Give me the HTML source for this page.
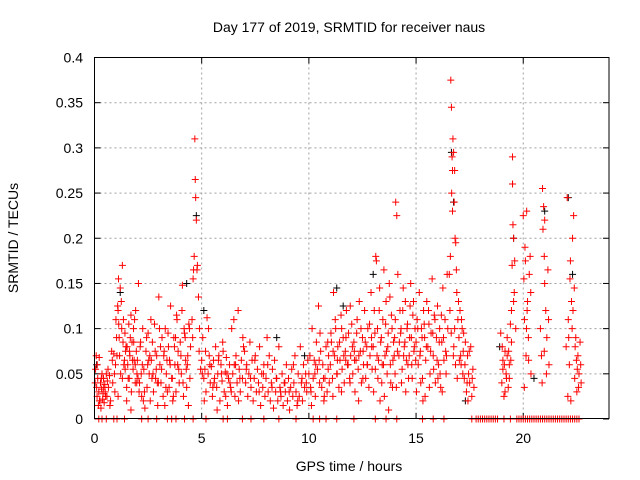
<!DOCTYPE html>
<html><head><meta charset="utf-8"><style>
html,body{margin:0;padding:0;background:#fff}
svg{display:block;font-family:"Liberation Sans",sans-serif}
</style></head><body>
<svg id="chart" width="640" height="480">
<text x="349" y="32" font-size="14" text-anchor="middle" fill="#000">Day 177 of 2019, SRMTID for receiver naus</text>
<text x="349" y="471" font-size="14" text-anchor="middle" fill="#000">GPS time / hours</text>
<text x="0" y="0" font-size="14" text-anchor="middle" fill="#000" transform="translate(18,238) rotate(-90)">SRMTID / TECUs</text>
<g id="grid"></g>
<g id="ticks"></g>
<g id="blackSeries"></g>
<g id="redSeries"></g>
<rect x="94.5" y="57.5" width="514.5" height="361" fill="none" stroke="#000" stroke-width="1"/>
</svg>
<script>
const xTicks=[0,5,10,15,20];
const yTicks=[0,0.05,0.1,0.15,0.2,0.25,0.3,0.35,0.4];
const yTickLabels=["0","0.05","0.1","0.15","0.2","0.25","0.3","0.35","0.4"];
const hoursRed=[0.05,0.08,0.1,0.12,0.15,0.18,0.2,0.22,0.25,0.28,0.3,0.33,0.35,0.38,0.4,0.42,0.45,0.48,0.5,0.55,0.58,0.6,0.65,0.7,0.75,0.8,0.85,0.9,0.95,0.98,
1.0,1.05,1.1,1.12,1.15,1.2,1.22,1.25,1.3,1.33,1.35,1.4,1.42,1.45,1.5,1.52,1.55,1.6,1.62,1.65,1.7,1.72,1.75,1.8,1.82,1.85,1.9,1.92,1.95,1.98,1.1,1.3,1.5,1.7,1.9,
2.0,2.05,2.1,2.15,2.2,2.25,2.3,2.35,2.4,2.45,2.5,2.55,2.6,2.65,2.7,2.75,2.8,2.85,2.9,2.95,3.0,3.05,3.1,3.15,3.2,3.25,3.3,3.35,3.4,3.45,3.5,3.55,3.6,3.65,3.7,3.75,3.8,3.85,3.9,3.95,4.0,4.05,4.1,4.15,4.2,4.25,4.3,4.35,4.4,4.45,
2.08,2.28,2.48,2.68,2.88,3.08,3.28,3.48,3.68,3.88,4.08,4.28,4.48,2.18,2.58,2.98,3.38,3.78,4.18,4.38,
4.55,4.6,4.62,4.65,4.68,4.7,4.72,4.75,4.78,4.8,4.85,4.9,4.95,4.58,4.88,
5.0,5.05,5.1,5.15,5.2,5.25,5.3,5.35,5.4,5.45,5.5,5.55,5.6,5.65,5.7,5.75,5.8,5.85,5.9,5.95,6.0,6.05,6.1,6.15,6.2,6.25,6.3,6.35,6.4,6.45,6.5,6.55,6.6,6.65,6.7,6.75,6.8,6.85,6.9,6.95,5.12,5.32,5.52,5.72,5.92,6.12,6.32,6.52,6.72,6.92,
7.0,7.05,7.1,7.15,7.2,7.25,7.3,7.35,7.4,7.45,7.5,7.55,7.6,7.65,7.7,7.75,7.8,7.85,7.9,7.95,8.0,8.05,8.1,8.15,8.2,8.25,8.3,8.35,8.4,8.45,8.5,8.55,8.6,8.65,8.7,8.75,8.8,8.85,8.9,8.95,9.0,9.05,9.1,9.15,9.2,9.25,9.3,9.35,9.4,9.45,9.5,9.55,9.6,9.65,9.7,9.75,9.8,9.85,9.9,9.95,
10.0,10.05,10.1,10.15,10.2,10.25,10.3,10.35,10.4,10.45,10.5,10.55,10.6,10.65,10.7,10.75,10.8,10.85,10.9,10.95,10.12,10.32,10.52,10.72,10.92,
11.0,11.05,11.1,11.15,11.2,11.25,11.3,11.35,11.4,11.45,11.5,11.55,11.6,11.65,11.7,11.75,11.8,11.85,11.9,11.95,12.0,12.05,12.1,12.15,12.2,12.25,12.3,12.35,12.4,12.45,12.5,12.55,12.6,12.65,12.7,12.75,12.8,12.85,12.9,12.95,11.12,11.32,11.52,11.72,11.92,12.12,12.32,12.52,12.72,12.92,
13.0,13.05,13.1,13.15,13.2,13.25,13.3,13.35,13.4,13.45,13.5,13.55,13.6,13.65,13.7,13.75,13.8,13.85,13.9,13.95,13.02,13.22,13.32,13.42,13.52,13.62,13.72,13.82,13.92,13.12,
14.0,14.05,14.1,14.15,14.2,14.25,14.3,14.35,14.4,14.45,14.5,14.55,14.6,14.65,14.7,14.75,14.8,14.85,14.9,14.95,14.02,14.08,14.22,14.32,14.42,14.52,14.62,14.72,14.82,14.92,
15.0,15.05,15.1,15.15,15.2,15.25,15.3,15.35,15.4,15.45,15.5,15.55,15.6,15.65,15.7,15.75,15.8,15.85,15.9,15.95,16.0,16.05,16.1,16.15,16.2,16.25,16.3,16.35,16.4,16.45,15.02,15.22,15.42,15.62,15.82,16.02,16.22,16.42,15.32,16.12,
16.55,16.6,16.62,16.65,16.68,16.7,16.72,16.75,16.78,16.8,16.82,16.85,16.88,16.9,16.95,16.58,16.64,16.7,16.76,16.84,16.92,16.98,16.66,16.74,16.8,
17.0,17.05,17.1,17.15,17.2,17.25,17.3,17.35,17.4,17.45,17.5,17.55,17.6,17.65,17.7,17.02,17.22,17.42,17.62,17.12,
18.95,19.0,19.05,19.1,19.15,19.2,19.25,19.3,19.35,19.4,19.45,19.5,19.55,19.6,19.65,19.05,19.15,19.25,19.35,19.45,19.55,19.5,19.52,19.48,19.58,
20.0,20.03,20.06,20.1,20.13,20.16,20.2,20.24,20.28,20.32,20.36,20.05,20.15,20.25,20.35,
20.8,20.85,20.9,20.95,21.0,21.05,21.1,21.15,21.2,20.88,20.98,21.08,21.18,21.0,20.92,
22.0,22.05,22.1,22.15,22.2,22.25,22.3,22.35,22.4,22.45,22.5,22.55,22.6,22.65,22.7,22.08,22.18,22.28,22.38,22.48,22.58,22.68,22.22,22.32,22.42];
const srmtidRed=[0.055,0.07,0.035,0.025,0.045,0.015,0.03,0.068,0.02,0.04,0.012,0.033,0.05,0.022,0.028,0.045,0.018,0.038,0.03,0.05,0.025,0.042,0.035,0.048,0.02,0.075,0.04,0.072,0.03,0.06,
0.11,0.07,0.12,0.155,0.09,0.145,0.05,0.13,0.17,0.085,0.11,0.065,0.095,0.075,0.035,0.08,0.06,0.105,0.045,0.07,0.115,0.03,0.085,0.055,0.1,0.065,0.04,0.12,0.075,0.05,0.025,0.045,0.02,0.01,0.06,
0.065,0.15,0.04,0.085,0.025,0.1,0.055,0.012,0.075,0.035,0.095,0.05,0.02,0.065,0.085,0.03,0.105,0.045,0.07,0.015,0.135,0.06,0.04,0.09,0.025,0.075,0.1,0.05,0.03,0.08,0.065,0.125,0.045,0.02,0.09,0.06,0.03,0.11,0.075,0.04,0.085,0.05,0.148,0.025,0.095,0.065,0.035,0.07,0.105,0.045,
0.03,0.02,0.06,0.045,0.055,0.08,0.015,0.035,0.025,0.06,0.12,0.055,0.08,0.05,0.07,0.04,0.065,0.09,0.1,0.015,
0.11,0.155,0.165,0.18,0.31,0.265,0.245,0.22,0.165,0.17,0.135,0.1,0.055,0.09,0.075,
0.065,0.09,0.045,0.055,0.03,0.112,0.05,0.07,0.04,0.058,0.025,0.065,0.045,0.08,0.035,0.05,0.07,0.02,0.06,0.042,0.075,0.03,0.052,0.068,0.015,0.045,0.06,0.035,0.1,0.05,0.11,0.025,0.07,0.04,0.12,0.055,0.03,0.065,0.045,0.08,0.02,0.1,0.035,0.01,0.05,0.025,0.04,0.06,0.02,0.09,
0.075,0.04,0.06,0.025,0.05,0.085,0.035,0.065,0.02,0.045,0.07,0.03,0.055,0.04,0.08,0.015,0.05,0.035,0.06,0.025,0.045,0.09,0.03,0.07,0.02,0.04,0.055,0.012,0.065,0.03,0.045,0.02,0.08,0.035,0.025,0.05,0.015,0.04,0.03,0.06,0.02,0.045,0.01,0.035,0.055,0.025,0.04,0.07,0.03,0.015,0.05,0.025,0.08,0.04,0.02,0.06,0.035,0.05,0.03,0.065,
0.05,0.07,0.03,0.1,0.045,0.065,0.025,0.085,0.055,0.125,0.04,0.075,0.035,0.06,0.02,0.045,0.08,0.03,0.055,0.04,0.015,0.06,0.095,0.025,0.07,
0.06,0.085,0.045,0.14,0.07,0.1,0.05,0.08,0.035,0.065,0.115,0.055,0.09,0.04,0.075,0.12,0.06,0.095,0.045,0.07,0.105,0.05,0.085,0.03,0.065,0.11,0.055,0.13,0.075,0.04,0.09,0.06,0.12,0.045,0.08,0.1,0.035,0.07,0.14,0.055,0.025,0.05,0.03,0.065,0.04,0.075,0.02,0.045,0.06,0.09,
0.08,0.12,0.055,0.175,0.1,0.065,0.145,0.085,0.04,0.11,0.165,0.07,0.13,0.05,0.095,0.15,0.06,0.115,0.035,0.085,0.03,0.045,0.02,0.06,0.025,0.075,0.01,0.04,0.065,0.18,
0.09,0.24,0.225,0.16,0.07,0.12,0.1,0.055,0.145,0.08,0.13,0.065,0.105,0.045,0.09,0.15,0.06,0.115,0.075,0.1,0.05,0.035,0.085,0.04,0.07,0.03,0.06,0.125,0.045,0.08,
0.085,0.11,0.06,0.14,0.075,0.1,0.045,0.12,0.09,0.065,0.13,0.08,0.105,0.05,0.095,0.155,0.07,0.115,0.04,0.09,0.125,0.06,0.1,0.035,0.085,0.145,0.065,0.11,0.05,0.16,0.03,0.04,0.025,0.035,0.055,0.045,0.03,0.07,0.02,0.05,
0.16,0.18,0.375,0.345,0.29,0.275,0.31,0.295,0.24,0.275,0.2,0.195,0.165,0.14,0.11,0.12,0.095,0.23,0.08,0.06,0.045,0.13,0.25,0.07,0.1,
0.09,0.12,0.06,0.1,0.075,0.045,0.085,0.03,0.07,0.05,0.04,0.08,0.025,0.055,0.035,0.065,0.095,0.02,0.045,0.11,
0.095,0.04,0.065,0.025,0.075,0.05,0.09,0.035,0.06,0.105,0.12,0.29,0.2,0.175,0.1,0.055,0.03,0.07,0.045,0.085,0.13,0.26,0.215,0.17,0.14,
0.225,0.155,0.11,0.175,0.07,0.23,0.13,0.09,0.16,0.18,0.05,0.035,0.1,0.065,0.14,
0.1,0.07,0.255,0.235,0.22,0.12,0.09,0.165,0.06,0.04,0.075,0.05,0.11,0.15,0.21,
0.08,0.245,0.11,0.06,0.175,0.13,0.2,0.225,0.045,0.09,0.03,0.07,0.05,0.085,0.04,0.025,0.155,0.1,0.145,0.065,0.035,0.06,0.02,0.12,0.08];
const hoursRed2=[0.03,0.13,0.23,0.32,0.43,0.52,0.63,0.72,0.83,0.93,
1.03,1.08,1.17,1.27,1.37,1.47,1.57,1.67,1.77,1.87,1.97,1.13,1.43,1.63,1.83,
2.03,2.13,2.23,2.33,2.43,2.53,2.63,2.73,2.83,2.93,3.03,3.13,3.23,3.33,3.43,3.53,3.63,3.73,3.83,3.93,4.03,4.13,4.23,4.33,4.43,
5.03,5.18,5.38,5.58,5.78,5.98,6.18,6.38,6.58,6.78,
7.08,7.28,7.48,7.68,7.88,8.08,8.28,8.48,8.68,8.88,9.08,9.28,9.48,9.68,9.88,
10.08,10.28,10.48,10.68,10.88,
11.03,11.13,11.23,11.33,11.43,11.53,11.63,11.73,11.83,11.93,12.03,12.13,12.23,12.33,12.43,12.53,12.63,12.73,12.83,12.93,
13.08,13.18,13.28,13.38,13.48,13.58,13.68,13.78,13.88,13.98,
14.03,14.13,14.28,14.38,14.48,14.58,14.68,14.78,14.88,14.98,
15.08,15.18,15.28,15.38,15.48,15.58,15.68,15.78,15.88,15.98,16.08,16.18,16.28,16.38,16.48,
17.08,17.18,17.28,17.38,17.48,19.02,19.12,19.22,19.32,19.42,20.08,20.18,20.98,22.12,22.52];
const srmtidRed2=[0.04,0.06,0.02,0.045,0.035,0.025,0.055,0.015,0.065,0.05,
0.09,0.125,0.07,0.1,0.06,0.08,0.045,0.09,0.065,0.11,0.04,0.105,0.055,0.075,0.085,
0.045,0.08,0.06,0.03,0.09,0.065,0.11,0.05,0.075,0.04,0.1,0.055,0.07,0.035,0.095,0.06,0.045,0.08,0.115,0.055,0.07,0.04,0.09,0.06,0.1,
0.05,0.075,0.06,0.04,0.065,0.085,0.05,0.03,0.06,0.045,
0.055,0.045,0.065,0.03,0.05,0.06,0.035,0.045,0.03,0.04,0.03,0.06,0.02,0.045,0.04,
0.035,0.05,0.065,0.045,0.085,
0.095,0.075,0.11,0.065,0.085,0.1,0.07,0.09,0.06,0.125,0.08,0.065,0.095,0.07,0.1,0.075,0.085,0.06,0.105,0.08,
0.095,0.07,0.12,0.09,0.06,0.105,0.08,0.135,0.1,0.07,
0.11,0.075,0.095,0.12,0.085,0.1,0.07,0.09,0.13,0.065,
0.1,0.07,0.09,0.105,0.08,0.12,0.075,0.095,0.11,0.065,0.085,0.115,0.09,0.075,0.1,
0.07,0.05,0.06,0.04,0.075,0.08,0.06,0.045,0.075,0.065,0.19,0.12,0.18,0.09,0.055];
const hoursZero=[0.2,0.35,0.55,0.9,1.05,1.4,2.2,2.5,2.9,3.4,3.6,3.8,4.2,4.6,5.2,6.0,6.2,6.9,7.3,7.9,8.6,9.4,10.2,10.5,10.8,11.3,12.1,13.1,13.6,14.1,15.3,15.8,16.3,17.6,17.8,17.9,18.0,18.1,18.2,18.3,18.4,18.5,18.6,18.7,18.8,19.1,19.4,19.7,19.8,19.9,20.0,20.1,20.2,20.3,20.4,20.5,20.6,20.7,20.8,20.9,21.0,21.1,21.2,21.3,21.4,21.5,21.6,21.7,21.8,21.9,22.0,22.1,22.2,22.3,22.4,22.5,22.6];
const hoursBlack=[0.1,1.2,4.3,4.75,5.1,11.6,11.3,13.0,16.75,16.65,19.5,19.55,21.0,22.1,22.3,18.9,20.5,17.3,8.5,9.8];
const srmtidBlack=[0.06,0.14,0.15,0.225,0.12,0.125,0.145,0.16,0.24,0.295,0.26,0.2,0.23,0.245,0.16,0.08,0.045,0.02,0.09,0.07];

const NS="http://www.w3.org/2000/svg";
const X0=94.5,X1=609,Y0=419,Y1=57.5;
function xs(h){return X0+(h/24)*(X1-X0);}
function ys(v){return Y0-(v/0.4)*(Y0-Y1);}
function mk(tag,attrs,parent){const e=document.createElementNS(NS,tag);for(const k in attrs)e.setAttribute(k,attrs[k]);parent.appendChild(e);return e;}
const grid=document.getElementById('grid'),ticks=document.getElementById('ticks');
xTicks.forEach((t,i)=>{
  const x=xs(t);
  if(i>0){const g=mk('line',{x1:x,x2:x,y1:Y1,y2:Y0,stroke:'#a0a0a0','stroke-dasharray':'2,3'},grid);
  
  }
  mk('line',{x1:x,x2:x,y1:Y0,y2:Y0-6,stroke:'#000'},ticks);
  mk('line',{x1:x,x2:x,y1:Y1,y2:Y1+6,stroke:'#000'},ticks);
  const l=mk('text',{x:x,y:443,'font-size':14,'text-anchor':'middle',fill:'#000'},ticks);
  l.textContent=String(t);
  
  
});
yTicks.forEach((v,i)=>{
  const y=ys(v);
  if(i>0&&i<yTicks.length-1){const g=mk('line',{x1:X0,x2:X1,y1:y,y2:y,stroke:'#a0a0a0','stroke-dasharray':'2,3'},grid);
  
  }
  mk('line',{x1:X0,x2:X0+6,y1:y,y2:y,stroke:'#000'},ticks);
  mk('line',{x1:X1,x2:X1-6,y1:y,y2:y,stroke:'#000'},ticks);
  const l=mk('text',{x:83,y:y+5,'font-size':14,'text-anchor':'end',fill:'#000'},ticks);
  l.textContent=yTickLabels[i];
  
  
});
function plus(parent,h,v,color){
  const x=xs(h),y=ys(v),a=3.5;
  const p=mk('path',{d:`M${x-a},${y}H${x+a}M${x},${y-a}V${y+a}`,stroke:color,'stroke-width':1,fill:'none'},parent);
  
  
}
const bg=document.getElementById('blackSeries'),rg=document.getElementById('redSeries');
for(let i=0;i<Math.min(hoursBlack.length,srmtidBlack.length);i++)plus(bg,hoursBlack[i],srmtidBlack[i],'#000');
for(let i=0;i<Math.min(hoursRed.length,srmtidRed.length);i++)plus(rg,hoursRed[i],srmtidRed[i],'#ff0000');
for(let i=0;i<Math.min(hoursRed2.length,srmtidRed2.length);i++)plus(rg,hoursRed2[i],srmtidRed2[i],'#ff0000');
hoursZero.forEach(h=>plus(rg,h,0,'#ff0000'));
</script>
</body></html>
